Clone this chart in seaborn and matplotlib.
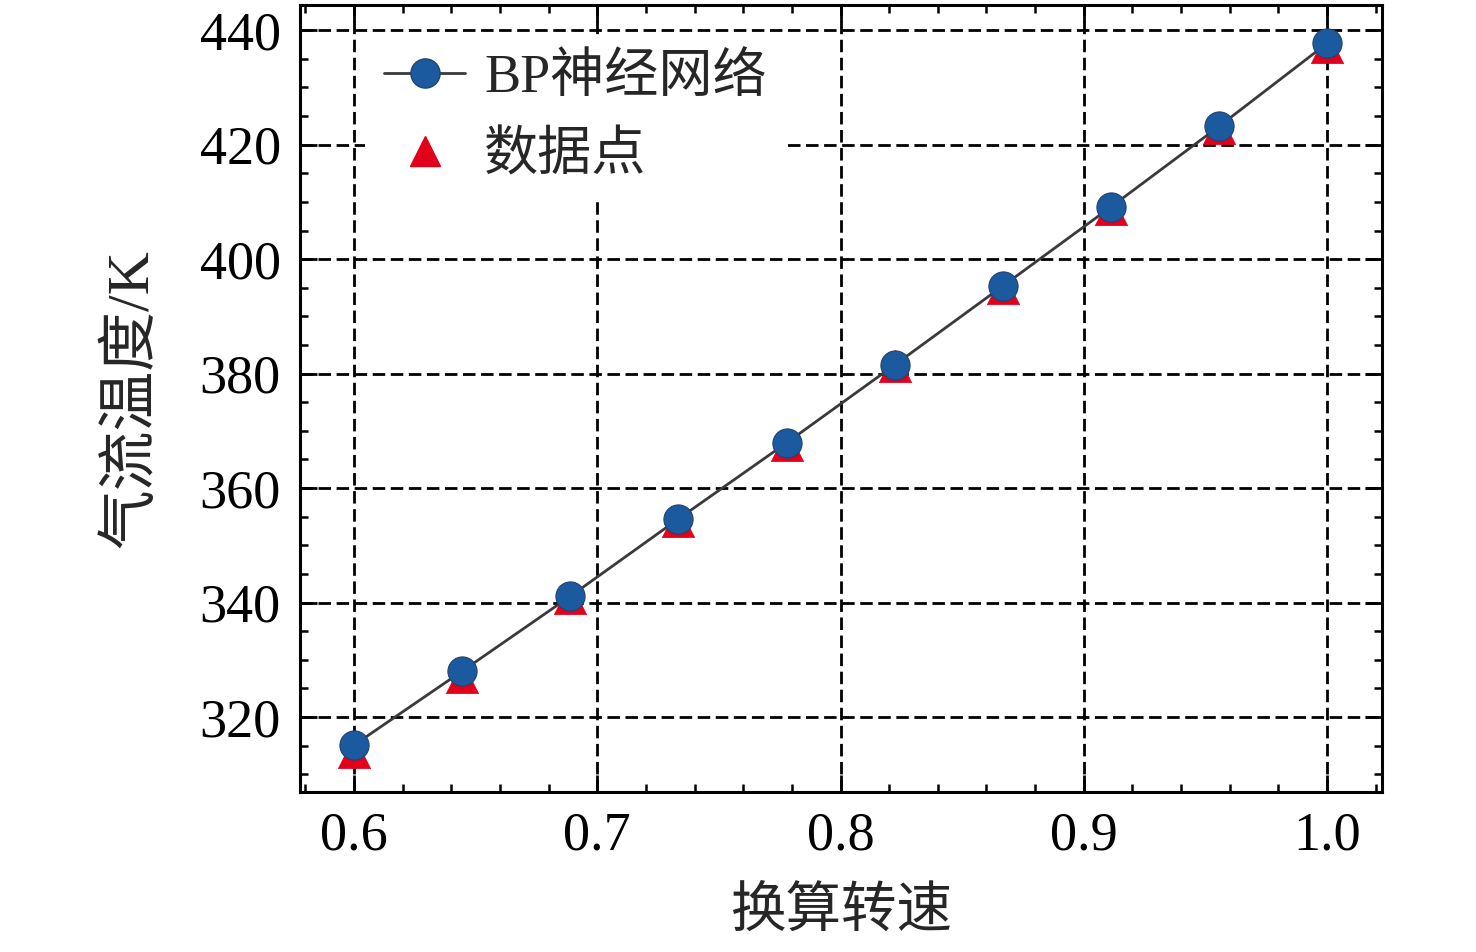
import numpy as np
import pandas as pd
import matplotlib
matplotlib.use('Agg')
import matplotlib.pyplot as plt
import seaborn as sns
from matplotlib.ticker import MultipleLocator
from matplotlib.lines import Line2D

# data
speed = [0.6, 0.6444, 0.6889, 0.7333, 0.7778, 0.8222, 0.8667, 0.9111, 0.9556, 1.0]
temp_bp = [315.1, 328.0, 341.1, 354.6, 367.9, 381.5, 395.3, 409.1, 423.2, 437.7]
temp_data = [313.9, 327.0, 340.8, 354.3, 367.6, 381.3, 394.9, 408.8, 422.9, 437.0]
label_bp = 'BP神经网络'
label_data = '数据点'

df = pd.DataFrame({'speed': speed, 'bp': temp_bp, 'data': temp_data})

sns.set_style('ticks')
plt.rcParams['font.family'] = ['Liberation Serif', 'Noto Sans CJK SC']
plt.rcParams['axes.unicode_minus'] = False

fig = plt.figure(figsize=(14.76, 9.52), dpi=100)
ax = fig.add_axes([0.2033, 0.1681, 0.7330, 0.8266])

blue = '#1b5a9e'
red = '#e3001b'

# data points (triangles) under the network curve
sns.scatterplot(data=df, x='speed', y='data', marker='^', s=540, color=red,
                edgecolor=red, linewidth=0.5, zorder=3, ax=ax)
sns.lineplot(data=df, x='speed', y='bp', color='#3a3a3a', linewidth=2,
             marker='o', markersize=21, markerfacecolor=blue,
             markeredgecolor='#22446e', markeredgewidth=0.8, zorder=4, ax=ax)

ax.set_xlim(0.5778, 1.0226)
ax.set_ylim(306.9, 444.4)
ax.xaxis.set_major_locator(MultipleLocator(0.1))
ax.xaxis.set_minor_locator(MultipleLocator(0.02))
ax.yaxis.set_major_locator(MultipleLocator(20))
ax.yaxis.set_minor_locator(MultipleLocator(5))
ax.set_xticks([0.6, 0.7, 0.8, 0.9, 1.0])
ax.set_xticklabels(['0.6', '0.7', '0.8', '0.9', '1.0'])

ax.grid(True, which='major', color='black', linestyle=(0, (4.5, 2)), linewidth=2)
ax.set_axisbelow(True)

for s in ax.spines.values():
    s.set_visible(True)
    s.set_linewidth(2.2)
    s.set_color('black')

ax.tick_params(which='both', direction='in', top=True, right=True, colors='black')
ax.tick_params(which='major', length=12, width=2, labelsize=39, pad=14)
ax.tick_params(which='minor', length=6, width=1.8)

ax.set_xlabel('换算转速', fontsize=40, labelpad=18)
ax.set_ylabel('气流温度/K', fontsize=43, labelpad=28)

handles = [
    Line2D([], [], color='#3a3a3a', linewidth=2, marker='o', markersize=21,
           markerfacecolor=blue, markeredgecolor='#22446e'),
    Line2D([], [], linestyle='none', marker='^', markersize=21,
           markerfacecolor=red, markeredgecolor=red),
]
leg = ax.legend(handles, [label_bp, label_data], loc='upper left',
                bbox_to_anchor=(0.06, 0.962), fontsize=39, frameon=True,
                facecolor='white', edgecolor='none', framealpha=1,
                fancybox=False, handlelength=1.5, handletextpad=0.35,
                borderpad=0.35, labelspacing=0.5, borderaxespad=0)

fig.savefig('out.png', dpi=100, facecolor='white')
